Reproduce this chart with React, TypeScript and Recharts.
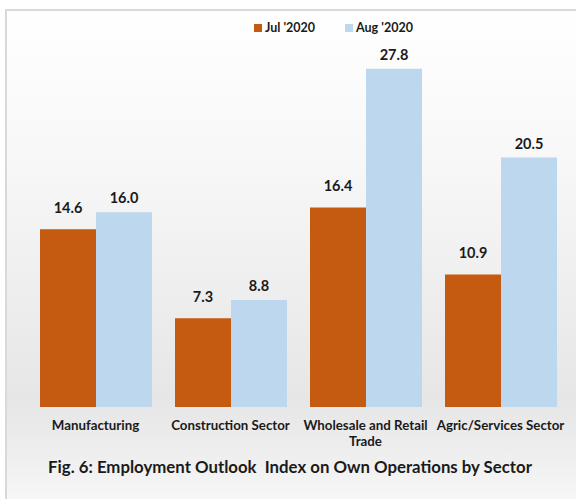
import { BarChart, Bar, XAxis, YAxis, LabelList, Text } from 'recharts';

const sectors = ['Manufacturing', 'Construction Sector', 'Wholesale and Retail Trade', 'Agric/Services Sector'];
const jul2020 = [14.6, 7.3, 16.4, 10.9];
const aug2020 = [16.0, 8.8, 27.8, 20.5];
const seriesNames = ["Jul '2020", "Aug '2020"];

const JUL = '#C55A11';
const AUG = '#BDD7EE';
const FONT = 'Lato, "Open Sans", sans-serif';

const data = sectors.map((name, i) => ({ name, jul: jul2020[i], aug: aug2020[i] }));

const SectorTick = (props: any) => {
  const { x, y, payload } = props;
  return (
    <Text
      x={x}
      y={y}
      width={150}
      textAnchor="middle"
      verticalAnchor="start"
      fontSize={13.3}
      fontWeight={700}
      fill="#1a1a1a"
      fontFamily={FONT}
      lineHeight={16}
    >
      {payload.value}
    </Text>
  );
};

const LegendBox = () => (
  <div
    style={{
      position: 'absolute',
      left: 254,
      top: 20,
      display: 'flex',
      alignItems: 'center',
      fontFamily: FONT,
      fontSize: 12.5,
      fontWeight: 700,
      color: '#1a1a1a',
    }}
  >
    <span style={{ width: 8, height: 8, background: JUL, marginRight: 3 }} />
    <span style={{ marginRight: 30 }}>{seriesNames[0]}</span>
    <span style={{ width: 8, height: 8, background: AUG, marginRight: 3 }} />
    <span>{seriesNames[1]}</span>
  </div>
);

export default function App() {
  return (
    <div style={{ position: 'absolute', left: 0, top: 0, width: 576, height: 499, overflow: 'hidden', background: '#fff' }}>
      <div
        style={{
          position: 'absolute',
          left: 5,
          top: 9,
          width: 590,
          height: 520,
          border: '2px solid #d9d9d9',
          background: 'linear-gradient(to bottom, #ffffff 0%, #f7f7f7 30%, #e6e6e6 75%, #eeeeee 85%, #fdfdfd 100%)',
        }}
      />
      <div style={{ position: 'absolute', left: 0, top: 0 }}>
        <BarChart
          width={576}
          height={450}
          data={data}
          margin={{ top: 42, right: 8, left: 28, bottom: 3 }}
          barGap={0}
          barSize={56}
        >
          <XAxis
            dataKey="name"
            axisLine={false}
            tickLine={false}
            tick={<SectorTick />}
            interval={0}
            height={40}
            tickMargin={8}
          />
          <YAxis hide domain={[0, 30]} />
          <Bar dataKey="jul" fill={JUL} isAnimationActive={false}>
            <LabelList dataKey="jul" position="top" offset={16} fill="#1a1a1a" fontSize={14.5} fontWeight={700} fontFamily={FONT} formatter={(v: any) => Number(v).toFixed(1)} />
          </Bar>
          <Bar dataKey="aug" fill={AUG} isAnimationActive={false}>
            <LabelList dataKey="aug" position="top" offset={9} fill="#1a1a1a" fontSize={14.5} fontWeight={700} fontFamily={FONT} formatter={(v: any) => Number(v).toFixed(1)} />
          </Bar>
        </BarChart>
      </div>
      <LegendBox />
      <div
        style={{
          position: 'absolute',
          left: 0,
          top: 456,
          width: 580,
          textAlign: 'center',
          fontFamily: FONT,
          fontSize: 16.8,
          fontWeight: 700,
          color: '#1a1a1a',
        }}
      >
        Fig. 6: Employment Outlook&nbsp; Index on Own Operations by Sector
      </div>
    </div>
  );
}
